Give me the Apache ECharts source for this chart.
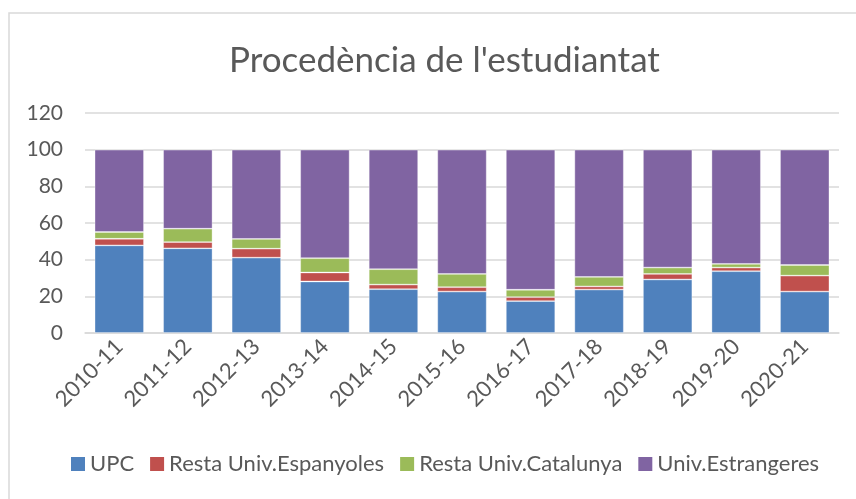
<!DOCTYPE html>
<html>
<head>
<meta charset="utf-8">
<script src="https://cdn.jsdelivr.net/npm/echarts@6/dist/echarts.min.js"></script>
<style>
  html, body { margin: 0; padding: 0; background: #fff; }
  #main { width: 856px; height: 499px; }
</style>
</head>
<body>
<div id="main"></div>
<script>
// dades llegides del gràfic (percentatges)
const cursos = ['2010-11', '2011-12', '2012-13', '2013-14', '2014-15', '2015-16', '2016-17', '2017-18', '2018-19', '2019-20', '2020-21']
const upc = [47.8, 46.2, 41.1, 28.1, 23.9, 22.6, 17.4, 23.7, 29.2, 33.7, 22.6]
const restaEspanyoles = [3.6, 3.4, 4.9, 4.9, 2.5, 2.4, 2.2, 1.7, 3.0, 2.0, 8.7]
const restaCatalunya = [3.7, 7.3, 5.3, 7.8, 8.4, 7.2, 4.0, 5.2, 3.5, 2.0, 5.8]
const estrangeres = [44.9, 43.1, 48.7, 59.2, 65.2, 67.8, 76.4, 69.4, 64.3, 62.3, 62.9]
const nomsSeries = ['UPC', 'Resta Univ.Espanyoles', 'Resta Univ.Catalunya', 'Univ.Estrangeres']
const colors = ['#4F81BD', '#C0504D', '#9BBB59', '#8064A2']

const font = 'Lato, "Liberation Sans", sans-serif'
const textColor = '#595959'

const chart = echarts.init(document.getElementById('main'))

const makeSeries = (name, data, i) => ({
  name: name,
  type: 'bar',
  stack: 'total',
  data: data,
  barCategoryGap: '28%',
  itemStyle: {
    color: colors[i],
    borderColor: 'rgba(255,255,255,0.45)',
    borderWidth: 0.8,
  },
})

const option = {
  animation: false,
  color: colors,
  graphic: [
    {
      type: 'rect',
      shape: { x: 9, y: 13, width: 900, height: 600 },
      style: { fill: 'none', stroke: '#D9D9D9', lineWidth: 1.5 },
      silent: true,
    },
  ],
  title: {
    text: "Procedència de l'estudiantat",
    left: 224,
    top: 38,
    textStyle: {
      fontFamily: font,
      fontSize: 35,
      fontWeight: 'normal',
      color: textColor,
    },
  },
  legend: {
    data: nomsSeries,
    bottom: 19,
    left: 66,
    icon: 'rect',
    itemWidth: 14,
    itemHeight: 14,
    itemGap: 16,
    itemStyle: { borderWidth: 0 },
    textStyle: { fontFamily: font, fontSize: 22, color: textColor },
  },
  grid: { left: 85, right: 17, top: 113, bottom: 166 },
  xAxis: {
    type: 'category',
    data: cursos,
    axisLine: { lineStyle: { color: '#D9D9D9', width: 1.5 } },
    axisTick: { show: false },
    axisLabel: {
      rotate: 45,
      margin: 10,
      fontFamily: font,
      fontSize: 22,
      color: textColor,
    },
  },
  yAxis: {
    type: 'value',
    min: 0,
    max: 120,
    interval: 20,
    axisLine: { show: false },
    axisTick: { show: false },
    axisLabel: { margin: 22, fontFamily: font, fontSize: 21, color: textColor },
    splitLine: { lineStyle: { color: '#D9D9D9', width: 1.5 } },
  },
  series: [
    makeSeries(nomsSeries[0], upc, 0),
    makeSeries(nomsSeries[1], restaEspanyoles, 1),
    makeSeries(nomsSeries[2], restaCatalunya, 2),
    makeSeries(nomsSeries[3], estrangeres, 3),
  ],
}

option && chart.setOption(option)
</script>
</body>
</html>
